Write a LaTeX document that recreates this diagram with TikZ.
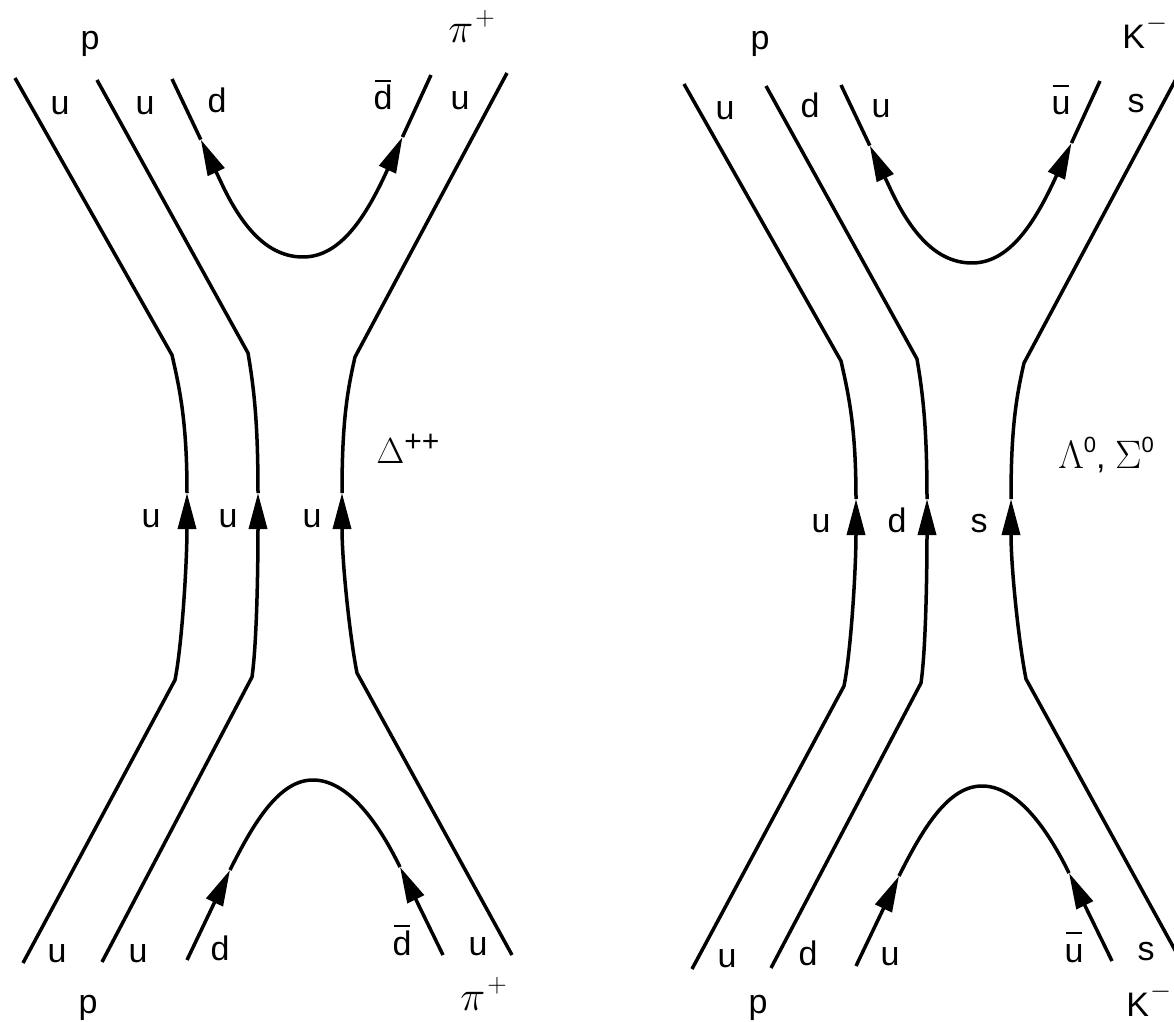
\documentclass[tikz,border=0pt]{standalone}
\usepackage{fontspec}
\setmainfont{Liberation Sans}
\usetikzlibrary{arrows.meta,calc}
\newcommand\qbar[1]{\leavevmode\setbox0\hbox{#1}\rlap{\hbox to\wd0{\hss\rule[14pt]{0.8\wd0}{1.2pt}\hss}}\box0}
\newcommand\sups[1]{\raisebox{6pt}{\fontsize{15}{15}\selectfont #1}}
\newcommand\supz{\raisebox{8pt}{\fontsize{11}{11}\selectfont 0}}
\newcommand\bigpi{\scalebox{1.22}{$\pi$}\kern1pt\raisebox{8.6pt}{\scalebox{0.78}{$+$}}}
\newcommand\kminus{K\kern0.5pt\raisebox{9pt}{\scalebox{0.78}{$-$}}}
\newcommand\qlines[1]{%
 \coordinate (#1a1) at (15,78); \coordinate (#1a2) at (172,355); \coordinate (#1a3) at (187,493); \coordinate (#1a4) at (175,680); \coordinate (#1a5) at (23,963);
 \coordinate (#1b1) at (97,80); \coordinate (#1b2) at (248,353); \coordinate (#1b3) at (258,493); \coordinate (#1b4) at (252,677); \coordinate (#1b5) at (102,962);
 \coordinate (#1d1) at (507,73); \coordinate (#1d2) at (355,357); \coordinate (#1d3) at (342,493); \coordinate (#1d4) at (357,673); \coordinate (#1d5) at (512,955);
 \coordinate (#1tA) at (172,79); \coordinate (#1tB) at (220,180); \coordinate (#1tM) at (303,257); \coordinate (#1tD) at (385,175); \coordinate (#1tC) at (431,75);
 \coordinate (#1tL) at ($(#1tA)!0.6!(#1tB)$); \coordinate (#1tR) at ($(#1tC)!0.62!(#1tD)$);
 \coordinate (#1bE) at (187,960); \coordinate (#1bL) at (230,870); \coordinate (#1bM) at (313,780); \coordinate (#1bR) at (400,867); \coordinate (#1bF) at (443,955);
 \draw[qline,arr] (#1a5) -- (#1a4) .. controls +(7,-35) and +(0,70) .. (#1a3);
 \draw[qline] (#1a3) .. controls +(0,-70) and +(8,35) .. (#1a2) -- (#1a1);
 \draw[qline,arr] (#1b5) -- (#1b4) .. controls +(5,-35) and +(0,70) .. (#1b3);
 \draw[qline] (#1b3) .. controls +(0,-70) and +(6,35) .. (#1b2) -- (#1b1);
 \draw[qline,arr] (#1d5) -- (#1d4) .. controls +(-7,-35) and +(0,70) .. (#1d3);
 \draw[qline] (#1d3) .. controls +(0,-70) and +(-8,35) .. (#1d2) -- (#1d1);
 \draw[qline,arr] (#1tM) .. controls +(-35,0) and +(22,48) .. (#1tB) -- (#1tL);
 \draw[qline] (#1tL) -- (#1tA);
 \draw[qline,arr] (#1tM) .. controls +(35,0) and +(-22,47) .. (#1tD) -- (#1tR);
 \draw[qline] (#1tR) -- (#1tC);
 \draw[qline,arr] (#1bE) -- (#1bL);
 \draw[qline] (#1bL) .. controls +(25,-50) and +(-33,0) .. (#1bM) .. controls +(33,0) and +(-24,-49) .. (#1bR);
 \draw[qline,arr] (#1bF) -- (#1bR);
}
\begin{document}
\begin{tikzpicture}[x=0.5pt,y=-0.5pt,
  font=\fontsize{17}{20}\selectfont,
  qline/.style={line width=1.75pt,line join=round},
  arr/.style={-{Triangle[length=18pt,width=9pt]}},
  lab/.style={anchor=base,inner sep=0pt},
  labw/.style={anchor=base west,inner sep=0pt}]
\useasboundingbox (0,0) rectangle (1174,1022);
\fill[white] (0,0) rectangle (1174,1022);
% left diagram
\qlines{L}
\node[lab] (Lp1) at (90,50) {p};
\node[labw] (Lpi1) at (448,43) {\bigpi};
\node[lab] (Lt1) at (60,115) {u};
\node[lab] (Lt2) at (145,115) {u};
\node[lab] (Lt3) at (217,113) {d};
\node[lab] (Lt4) at (383,110) {\qbar{d}};
\node[lab] (Lt5) at (460,110) {u};
\node[lab] (Lm1) at (151,527) {u};
\node[lab] (Lm2) at (228,527) {u};
\node[lab] (Lm3) at (312,527) {u};
\node[labw] (LD) at (376,463) {\scalebox{1.05}{$\Delta$}\sups{++}};
\node[lab] (Lb1) at (57,962) {u};
\node[lab] (Lb2) at (138,962) {u};
\node[lab] (Lb3) at (220,960) {d};
\node[lab] (Lb4) at (402,955) {\qbar{d}};
\node[lab] (Lb5) at (478,955) {u};
\node[lab] (Lp2) at (88,1013) {p};
\node[labw] (Lpi2) at (460,1010) {\bigpi};
% right diagram
\begin{scope}[shift={(669,6)}]
\qlines{R}
\end{scope}
\node[lab] (Rp1) at (760,50) {p};
\node[labw] (RK1) at (1122,49) {\kminus};
\node[lab] (Rt1) at (725,120) {u};
\node[lab] (Rt2) at (810,118) {d};
\node[lab] (Rt3) at (881,118) {u};
\node[lab] (Rt4) at (1061,115) {\qbar{u}};
\node[lab] (Rt5) at (1136,113) {s};
\node[lab] (Rm1) at (821,532) {u};
\node[lab] (Rm2) at (897,532) {d};
\node[lab] (Rm3) at (979,532) {s};
\node[labw] (RL) at (1058,468) {\scalebox{1.15}{$\Lambda$}\supz, \scalebox{1.15}{$\Sigma$}\supz};
\node[lab] (Rb1) at (727,967) {u};
\node[lab] (Rb2) at (808,965) {d};
\node[lab] (Rb3) at (890,965) {u};
\node[lab] (Rb4) at (1074,962) {\qbar{u}};
\node[lab] (Rb5) at (1146,960) {s};
\node[lab] (Rp2) at (758,1013) {p};
\node[labw] (RK2) at (1126,1016) {\kminus};
\end{tikzpicture}
\end{document}
